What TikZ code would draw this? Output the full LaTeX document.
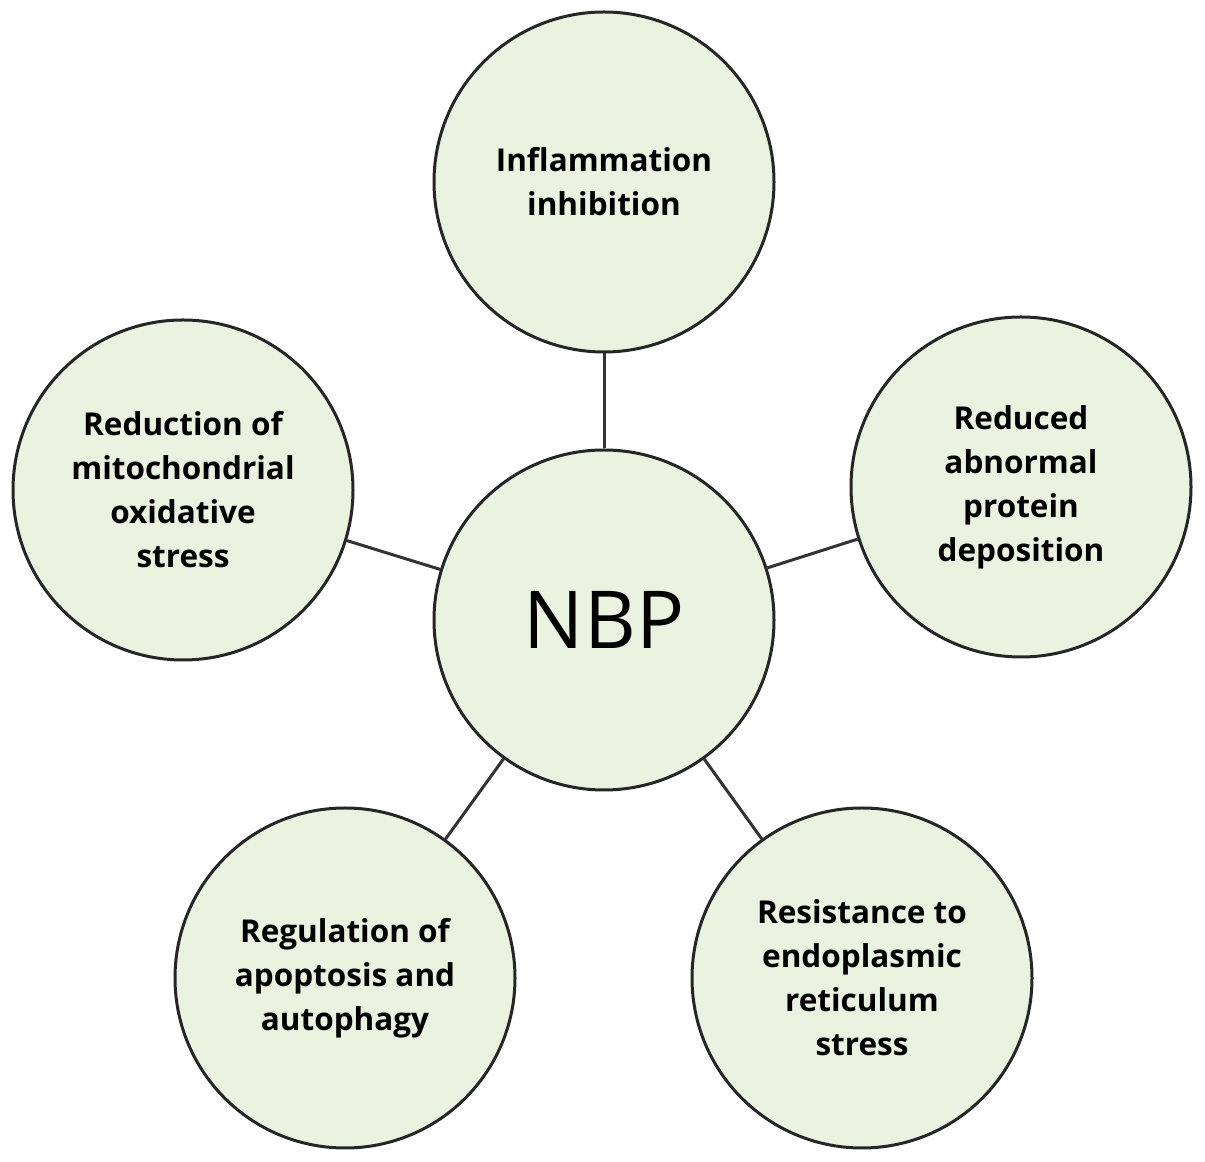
\documentclass[tikz,border=0pt]{standalone}
\usepackage{fontspec}
\setmainfont{Open Sans}
\begin{document}
\begin{tikzpicture}[x=1pt,y=1pt,
  bub/.style={circle, draw=black!85, line width=3pt, fill=bubfill, minimum size=340pt, inner sep=0pt, align=center, font=\bfseries\fontsize{31.5}{44}\selectfont},
  link/.style={draw=black!80, line width=3pt}]
\definecolor{bubfill}{HTML}{E9F3DF}
\useasboundingbox (0,0) rectangle (1205,1162);
\node[bub, font=\mdseries\fontsize{80}{90}\selectfont] (nbp) at (604,542) {NBP};
\node[bub] (top) at (604,980) {Inflammation\\inhibition};
\node[bub] (left) at (183,672) {Reduction of\\mitochondrial\\oxidative\\stress};
\node[bub] (right) at (1021,675) {Reduced\\abnormal\\protein\\deposition};
\node[bub] (bl) at (345,184) {Regulation of\\apoptosis and\\autophagy};
\node[bub] (br) at (862,184) {Resistance to\\endoplasmic\\reticulum\\stress};
\draw[link] (nbp) -- (top);
\draw[link] (nbp) -- (left);
\draw[link] (nbp) -- (right);
\draw[link] (nbp) -- (bl);
\draw[link] (nbp) -- (br);
\end{tikzpicture}
\end{document}
